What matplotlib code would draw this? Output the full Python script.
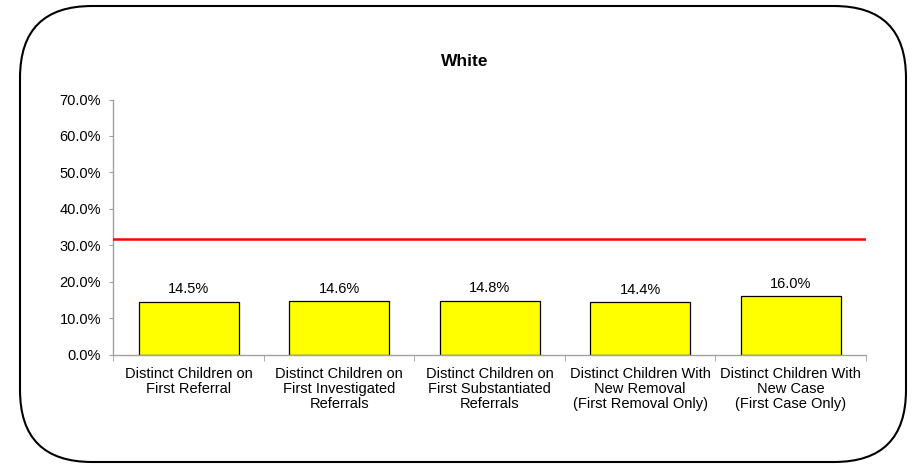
import matplotlib
matplotlib.use("Agg")
import matplotlib.pyplot as plt
from matplotlib.patches import FancyBboxPatch
from matplotlib.transforms import IdentityTransform
from matplotlib.ticker import FuncFormatter

categories = [
    "Distinct Children on\nFirst Referral",
    "Distinct Children on\nFirst Investigated\nReferrals",
    "Distinct Children on\nFirst Substantiated\nReferrals",
    "Distinct Children With\nNew Removal\n(First Removal Only)",
    "Distinct Children With\nNew Case\n(First Case Only)",
]
values = [14.5, 14.6, 14.8, 14.4, 16.0]
benchmark = 31.8
yticks = [0, 10, 20, 30, 40, 50, 60, 70]

plt.rcParams["font.family"] = ["Liberation Sans", "DejaVu Sans"]

fig = plt.figure(figsize=(9.13, 4.65), dpi=100)
ax = fig.add_axes([0.1243, 0.2372, 0.8242, 0.5488])

x = list(range(len(categories)))
ax.bar(x, values, width=0.667, color="#ffff00", edgecolor="black", linewidth=0.9, zorder=2)
for xi, v in zip(x, values):
    ax.annotate(f"{v:.1f}%", (xi, v), xytext=(0, 4), textcoords="offset points",
                ha="center", va="bottom", fontsize=10.5)

ax.axhline(benchmark, color="#ff0000", linewidth=1.8, zorder=3)

ax.set_xlim(-0.5, len(categories) - 0.5)
ax.set_ylim(0, 70)
ax.set_yticks(yticks)
ax.yaxis.set_major_formatter(FuncFormatter(lambda v, p: f"{v:.1f}%"))
ax.set_xticks(x)
ax.set_xticklabels(categories, fontsize=10.5, linespacing=1.1)
ax.set_xticks([i - 0.5 for i in range(len(categories) + 1)], minor=True)
ax.tick_params(axis="x", which="major", length=0, pad=9)
ax.tick_params(axis="x", which="minor", length=4, color="#a0a0a0")
ax.tick_params(axis="y", length=3, color="#a0a0a0", labelsize=10.5, pad=6)

for s in ["top", "right"]:
    ax.spines[s].set_visible(False)
for s in ["left", "bottom"]:
    ax.spines[s].set_color("#a0a0a0")
    ax.spines[s].set_linewidth(1.0)

fig.text(0.509, 1 - 62 / 465, "White", ha="center", va="center",
         fontsize=12.5, fontweight="bold")

box = FancyBboxPatch((20, 3), 886, 456, boxstyle="round,pad=0,rounding_size=72",
                     transform=IdentityTransform(), fill=False,
                     edgecolor="black", linewidth=1.5)
fig.patches.append(box)

fig.savefig("out.png", dpi=100)
